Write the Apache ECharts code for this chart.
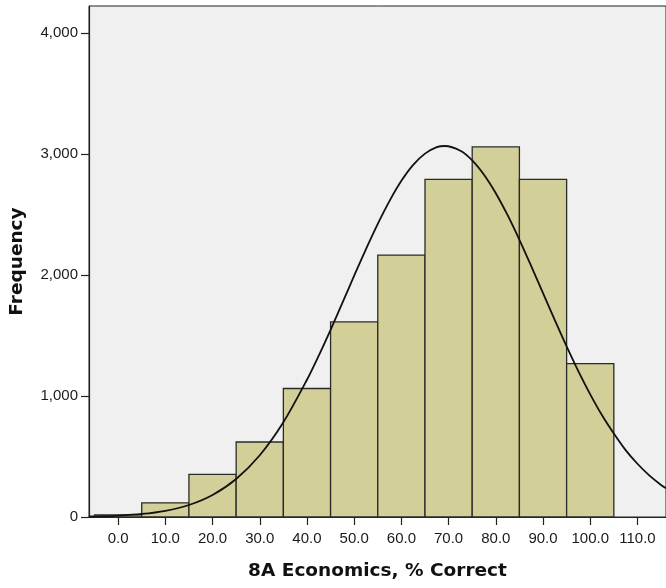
<!DOCTYPE html>
<html>
<head>
<meta charset="utf-8">
<script src="https://cdn.jsdelivr.net/npm/echarts@6/dist/echarts.min.js"></script>
<style>
html,body{margin:0;padding:0;background:#fff;}
#chart{width:666px;height:588px;}
</style>
</head>
<body>
<div id="chart"></div>
<script>
// Histogram bins (center of each 10-point bin) and frequencies
var binCenters = [0, 10, 20, 30, 40, 50, 60, 70, 80, 90, 100];
var binWidth = 10;
var frequencies = [18, 117, 353, 620, 1062, 1612, 2165, 2791, 3058, 2791, 1267];

// Normal curve
var curveX = [-6.2, -5, 0, 5, 10, 15, 20, 25, 30, 35, 40, 42.5, 45, 47.5, 50, 52.5, 55, 57.5, 60, 62.5, 65, 67.5, 69.2, 72.5, 75, 77.5, 80, 82.5, 85, 87.5, 90, 92.5, 95, 97.5, 100, 102.5, 105, 107.5, 110, 112.5, 115, 116.1];
var curveY = [4, 5, 12, 25, 51, 99, 182, 314, 510, 783, 1134, 1334, 1547, 1770, 1994, 2214, 2423, 2613, 2778, 2910, 3003, 3056, 3066, 3027, 2948, 2829, 2676, 2494, 2291, 2074, 1851, 1627, 1410, 1204, 1014, 841, 690, 553, 440, 344, 265, 238];

// Tick labels
var xTickValues = [0, 10, 20, 30, 40, 50, 60, 70, 80, 90, 100, 110];
var yTickValues = [0, 1000, 2000, 3000, 4000];

var xTitle = '8A Economics, % Correct';
var yTitle = 'Frequency';

function fmtThousands(v) {
  var s = String(Math.round(v));
  return s.replace(/\B(?=(\d{3})+(?!\d))/g, ',');
}

var barData = binCenters.map(function (c, i) { return [c - binWidth / 2, c + binWidth / 2, frequencies[i]]; });
var curveData = curveX.map(function (x, i) { return [x, curveY[i]]; });

var chart = echarts.init(document.getElementById('chart'), null, {renderer: 'canvas'});
chart.setOption({
  animation: false,
  backgroundColor: '#ffffff',
  grid: {
    left: 89, top: 6, right: -3, bottom: 71,
    show: true, backgroundColor: '#f0f0f0', borderColor: '#222', borderWidth: 1
  },
  xAxis: {
    type: 'value',
    min: -6.17, max: 116.05,
    name: xTitle,
    nameLocation: 'middle',
    nameGap: 45,
    nameTextStyle: {fontFamily: 'DejaVu Sans', fontWeight: 'bold', fontSize: 18.5, color: '#111'},
    splitLine: {show: false},
    axisLine: {show: true, onZero: false, lineStyle: {color: '#222', width: 1.2}},
    axisTick: {show: true, inside: false, length: 8, customValues: xTickValues, lineStyle: {color: '#222', width: 1.2}},
    axisLabel: {
      customValues: xTickValues,
      margin: 14,
      fontFamily: 'Liberation Sans', fontSize: 15, color: '#1a1a1a',
      formatter: function (v) { return v.toFixed(1); }
    }
  },
  yAxis: {
    type: 'value',
    min: 0, max: 4223,
    name: yTitle,
    nameLocation: 'middle',
    nameGap: 62,
    nameRotate: 90,
    nameTextStyle: {fontFamily: 'DejaVu Sans', fontWeight: 'bold', fontSize: 18.5, color: '#111'},
    splitLine: {show: false},
    axisLine: {show: true, onZero: false, lineStyle: {color: '#222', width: 1.2}},
    axisTick: {show: true, inside: false, length: 8, customValues: yTickValues, lineStyle: {color: '#222', width: 1.2}},
    axisLabel: {
      customValues: yTickValues,
      margin: 11,
      fontFamily: 'Liberation Sans', fontSize: 15, color: '#1a1a1a',
      formatter: function (v) { return fmtThousands(v); }
    }
  },
  series: [
    {
      type: 'custom',
      data: barData,
      encode: {x: [0, 1], y: 2},
      renderItem: function (params, api) {
        var p0 = api.coord([api.value(0), api.value(2)]);
        var p1 = api.coord([api.value(1), 0]);
        return {
          type: 'rect',
          shape: {x: p0[0], y: p0[1], width: p1[0] - p0[0], height: p1[1] - p0[1]},
          style: {fill: '#d3cf98', stroke: '#2a2a2a', lineWidth: 1.3}
        };
      },
      z: 2
    },
    {
      type: 'line',
      data: curveData,
      smooth: 0.3,
      showSymbol: false,
      lineStyle: {color: '#111', width: 1.8},
      z: 3
    }
  ]
});
</script>
</body>
</html>
